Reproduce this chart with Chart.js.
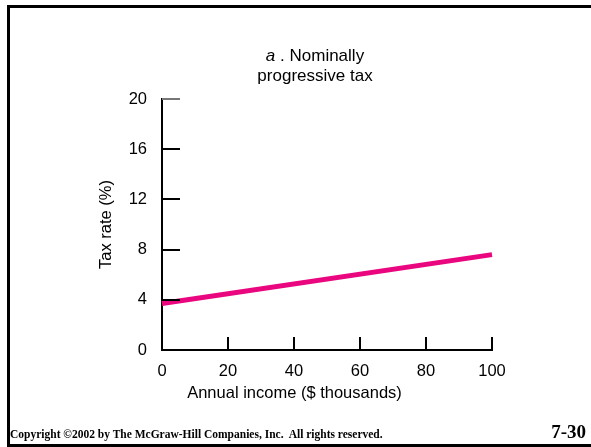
<!DOCTYPE html>
<html>
<head>
<meta charset="utf-8">
<script src="https://cdn.jsdelivr.net/npm/chart.js@4"></script>
<style>
  html, body { margin: 0; padding: 0; background: #fff; }
  body { width: 591px; height: 447px; position: relative; overflow: hidden; font-family: "Liberation Sans", Arial, sans-serif; }
  #frame { position: absolute; left: 7px; top: 5px; width: 600px; height: 436px; border: 3px solid #000; }
  #wrap { position: absolute; left: 0; top: 0; width: 591px; height: 447px; }
  #title { position: absolute; left: 215px; top: 46px; width: 200px; text-align: center; font-size: 17px; line-height: 20px; color: #000; }
  #copy { position: absolute; left: 10px; top: 428px; font-family: "Liberation Serif", "Times New Roman", serif; font-weight: bold; font-size: 11.5px; color: #000; white-space: nowrap; }
  #page { position: absolute; right: 5px; top: 421px; font-family: "Liberation Serif", "Times New Roman", serif; font-weight: bold; font-size: 19px; color: #000; }
</style>
</head>
<body>
<div id="frame"></div>
<div id="wrap"><canvas id="taxChart" width="591" height="447"></canvas></div>
<div id="title"><i>a</i> . Nominally<br>progressive tax</div>
<div id="copy">Copyright &copy;2002 by The McGraw-Hill Companies, Inc.&nbsp; All rights reserved.</div>
<div id="page">7-30</div>
<script>
const incomeValues = [0, 100];
const taxRateValues = [3.7, 7.6];
const xTicks = [0, 20, 40, 60, 80, 100];
const yTicks = [0, 4, 8, 12, 16, 20];

// inward tick marks, drawn from the scales
const innerTicks = {
  id: 'innerTicks',
  afterDraw(chart) {
    const ctx = chart.ctx;
    const xs = chart.scales.x;
    const ys = chart.scales.y;
    ctx.save();
    ctx.lineWidth = 2;
    yTicks.forEach(v => {
      if (v === 0) return;
      const py = Math.round(ys.getPixelForValue(v));
      ctx.strokeStyle = v === 20 ? '#777' : '#000';
      ctx.beginPath();
      ctx.moveTo(xs.left, py);
      ctx.lineTo(xs.left + 18, py);
      ctx.stroke();
    });
    ctx.strokeStyle = '#000';
    xTicks.forEach(v => {
      if (v === 0) return;
      const px = Math.round(xs.getPixelForValue(v));
      ctx.beginPath();
      ctx.moveTo(px, ys.bottom);
      ctx.lineTo(px, ys.bottom - 13);
      ctx.stroke();
    });
    ctx.restore();
  }
};

const axisFont = { family: 'Liberation Sans', size: 16.5 };

const ctx = document.getElementById('taxChart').getContext('2d');
new Chart(ctx, {
  type: 'line',
  data: {
    datasets: [{
      data: incomeValues.map((x, i) => ({ x: x, y: taxRateValues[i] })),
      borderColor: '#e9067f',
      borderWidth: 5,
      pointRadius: 0,
      fill: false,
      clip: false
    }]
  },
  options: {
    responsive: false,
    animation: false,
    layout: { padding: { left: 97, top: 99, right: 99, bottom: 44 } },
    plugins: {
      legend: { display: false },
      tooltip: { enabled: false },
      // x-axis caption sits off-centre in the original, so use the title box (spans the padded width)
      title: {
        display: true,
        position: 'bottom',
        text: 'Annual income ($ thousands)',
        color: '#000',
        padding: 0,
        font: { family: 'Liberation Sans', size: 16.5, weight: 'normal', lineHeight: 1.2 }
      }
    },
    scales: {
      x: {
        type: 'linear',
        min: 0,
        max: 100,
        afterBuildTicks: s => { s.ticks = xTicks.map(v => ({ value: v })); },
        afterFit: s => { s.height = 33.2; },
        grid: { display: false, drawTicks: false },
        border: { display: true, color: '#000', width: 2 },
        ticks: { color: '#000', padding: 12, font: axisFont }
      },
      y: {
        type: 'linear',
        min: 0,
        max: 20,
        afterBuildTicks: s => { s.ticks = yTicks.map(v => ({ value: v })); },
        afterFit: s => { s.width = 65; },
        grid: { display: false, drawTicks: false },
        border: { display: true, color: '#000', width: 2 },
        ticks: { color: '#000', padding: 15, font: axisFont },
        title: { display: true, text: 'Tax rate (%)', color: '#000', padding: 0, font: axisFont }
      }
    }
  },
  plugins: [innerTicks]
});
</script>
</body>
</html>
